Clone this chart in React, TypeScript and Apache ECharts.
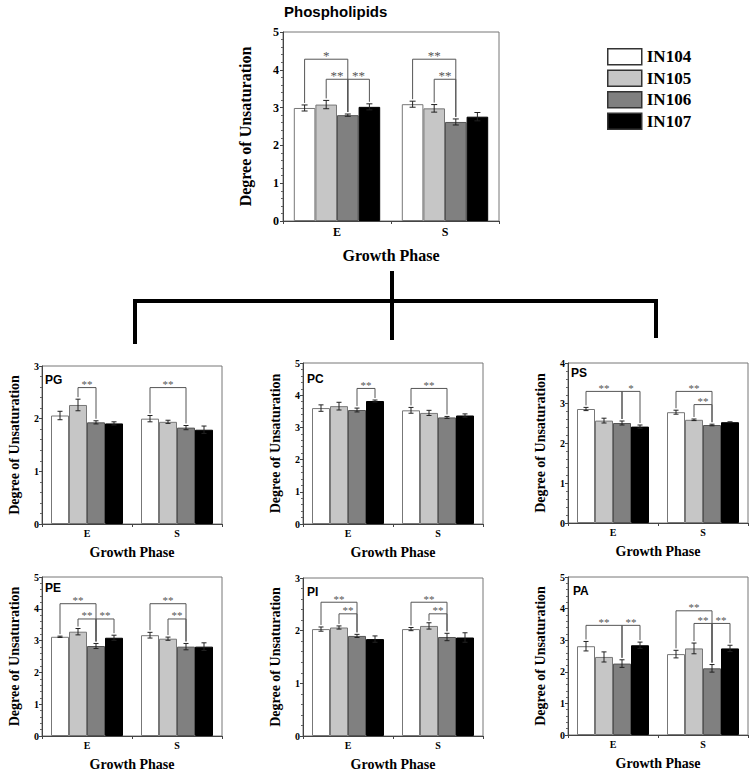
import React, { useEffect, useRef } from "react";
import * as echarts from "echarts";

// ---------- data ----------
const categories = ["E", "S"];
const strains = ["IN104", "IN105", "IN106", "IN107"];

// [phase][strain]
const phosphoMean = [[2.99, 3.08, 2.8, 3.02], [3.09, 2.98, 2.62, 2.76]];
const phosphoErr = [[0.08, 0.11, 0.03, 0.08], [0.08, 0.1, 0.08, 0.11]];
// [phase, fromStrain, toStrain, height, label]
const phosphoSig: [number, number, number, number, string][] = [
  [0, 0, 2, 4.28, "*"], [0, 1, 2, 3.75, "**"], [0, 2, 3, 3.75, "**"],
  [1, 0, 2, 4.28, "**"], [1, 1, 2, 3.75, "**"],
];

const pgMean = [[2.06, 2.26, 1.93, 1.91], [2.0, 1.94, 1.83, 1.79]];
const pgErr = [[0.08, 0.11, 0.03, 0.03], [0.06, 0.03, 0.04, 0.07]];
const pgSig: [number, number, number, number, string][] = [
  [0, 1, 2, 2.59, "**"], [1, 0, 2, 2.59, "**"],
];

const pcMean = [[3.6, 3.66, 3.54, 3.82], [3.53, 3.45, 3.31, 3.37]];
const pcErr = [[0.1, 0.12, 0.06, 0.03], [0.09, 0.08, 0.03, 0.05]];
const pcSig: [number, number, number, number, string][] = [
  [0, 2, 3, 4.21, "**"], [1, 0, 2, 4.21, "**"],
];

const psMean = [[2.85, 2.56, 2.5, 2.41], [2.77, 2.58, 2.45, 2.52]];
const psErr = [[0.04, 0.06, 0.05, 0.04], [0.05, 0.02, 0.02, 0.01]];
const psSig: [number, number, number, number, string][] = [
  [0, 0, 2, 3.29, "**"], [0, 2, 3, 3.29, "*"],
  [1, 0, 2, 3.29, "**"], [1, 1, 2, 2.96, "**"],
];

const peMean = [[3.12, 3.28, 2.83, 3.09], [3.17, 3.06, 2.81, 2.81]];
const peErr = [[0.02, 0.1, 0.08, 0.08], [0.09, 0.05, 0.1, 0.12]];
const peSig: [number, number, number, number, string][] = [
  [0, 0, 2, 4.16, "**"], [0, 1, 2, 3.68, "**"], [0, 2, 3, 3.68, "**"],
  [1, 0, 2, 4.16, "**"], [1, 1, 2, 3.68, "**"],
];

const piMean = [[2.03, 2.06, 1.9, 1.84], [2.03, 2.09, 1.88, 1.87]];
const piErr = [[0.04, 0.03, 0.03, 0.06], [0.03, 0.06, 0.07, 0.09]];
const piSig: [number, number, number, number, string][] = [
  [0, 0, 2, 2.54, "**"], [0, 1, 2, 2.32, "**"],
  [1, 0, 2, 2.54, "**"], [1, 1, 2, 2.32, "**"],
];

const paMean = [[2.81, 2.47, 2.26, 2.84], [2.56, 2.74, 2.11, 2.74]];
const paErr = [[0.15, 0.16, 0.12, 0.1], [0.12, 0.17, 0.12, 0.1]];
const paSig: [number, number, number, number, string][] = [
  [0, 0, 2, 3.47, "**"], [0, 2, 3, 3.47, "**"],
  [1, 0, 2, 3.93, "**"], [1, 1, 2, 3.53, "**"], [1, 2, 3, 3.53, "**"],
];

const yMax = [5, 3, 5, 4, 5, 3, 5];
const panelLabels = ["", "PG", "PC", "PS", "PE", "PI", "PA"];

// ---------- styling / layout ----------
const serif = "Liberation Serif";
const sans = "Liberation Sans";
const fills = ["#ffffff", "#c6c6c6", "#808080", "#000000"];
const borders = ["#777777", "#777777", "#555555", "#000000"];

const layouts = [
  { left: 283, top: 32, width: 216, height: 189, big: true, lx: 0, ly: 0 },
  { left: 42, top: 366, width: 180, height: 158, big: false, lx: 45, ly: 374 },
  { left: 303, top: 363, width: 180, height: 161, big: false, lx: 307, ly: 373 },
  { left: 568, top: 363, width: 180, height: 160, big: false, lx: 571, ly: 367 },
  { left: 42, top: 577, width: 180, height: 159, big: false, lx: 45, ly: 582 },
  { left: 303, top: 578, width: 180, height: 158, big: false, lx: 307, ly: 586 },
  { left: 568, top: 577, width: 180, height: 158, big: false, lx: 573, ly: 585 },
];

const panelData = [
  { mean: phosphoMean, err: phosphoErr, sig: phosphoSig },
  { mean: pgMean, err: pgErr, sig: pgSig },
  { mean: pcMean, err: pcErr, sig: pcSig },
  { mean: psMean, err: psErr, sig: psSig },
  { mean: peMean, err: peErr, sig: peSig },
  { mean: piMean, err: piErr, sig: piSig },
  { mean: paMean, err: paErr, sig: paSig },
];

function barX(api: any, c: number, s: number) {
  const band = api.size([1, 0])[0];
  const center = api.coord([c, 0])[0];
  return center - band * 0.4 + (s + 0.5) * band * 0.2;
}

function buildOption() {
  const grid: any[] = [];
  const xAxis: any[] = [];
  const yAxis: any[] = [];
  const series: any[] = [];
  const title: any[] = [
    {
      text: "Phospholipids",
      left: 284,
      top: 4,
      padding: 0,
      textStyle: { fontFamily: sans, fontWeight: "bold", fontSize: 15, color: "#000" },
    },
  ];

  layouts.forEach((L, i) => {
    const d = panelData[i];
    const big = L.big;
    grid.push({
      left: L.left, top: L.top, width: L.width, height: L.height,
      show: true, borderColor: "#777", borderWidth: 1, backgroundColor: "transparent",
    });
    xAxis.push({
      type: "category",
      gridIndex: i,
      data: categories,
      name: "Growth Phase",
      nameLocation: "middle",
      nameGap: big ? 26 : 21,
      nameTextStyle: { fontFamily: serif, fontWeight: "bold", fontSize: big ? 16 : 14, color: "#000" },
      axisLine: { lineStyle: { color: "#444", width: 1 } },
      axisTick: { show: true, length: 3, lineStyle: { color: "#444" } },
      axisLabel: { fontFamily: serif, fontWeight: "bold", fontSize: big ? 12 : 10, color: "#000", margin: big ? 5 : 4 },
    });
    yAxis.push({
      type: "value",
      gridIndex: i,
      min: 0,
      max: yMax[i],
      interval: 1,
      name: "Degree of Unsaturation",
      nameLocation: "middle",
      nameGap: big ? 30 : 21,
      nameTextStyle: { fontFamily: serif, fontWeight: "bold", fontSize: big ? 16 : 14, color: "#000" },
      axisLine: { show: true, lineStyle: { color: "#444", width: 1 } },
      axisTick: { show: true, length: 3, lineStyle: { color: "#444" } },
      minorTick: { show: true, splitNumber: 5, length: 2, lineStyle: { color: "#666" } },
      splitLine: { show: false },
      axisLabel: { fontFamily: serif, fontWeight: "bold", fontSize: big ? 12 : 10, color: "#000", margin: big ? 4 : 3 },
    });

    if (panelLabels[i]) {
      title.push({
        text: panelLabels[i],
        left: L.lx,
        top: L.ly,
        padding: 0,
        textStyle: { fontFamily: sans, fontWeight: "bold", fontSize: 12, color: "#000" },
      });
    }

    strains.forEach((name, s) => {
      series.push({
        type: "bar",
        name,
        xAxisIndex: i,
        yAxisIndex: i,
        data: categories.map((_, c) => d.mean[c][s]),
        barGap: "0%",
        barCategoryGap: "20%",
        itemStyle: { color: fills[s], borderColor: borders[s], borderWidth: 1 },
        silent: true,
      });
    });

    const errData: number[][] = [];
    categories.forEach((_, c) => strains.forEach((__, s) => errData.push([c, d.mean[c][s], s, d.err[c][s]])));
    series.push({
      type: "custom",
      xAxisIndex: i,
      yAxisIndex: i,
      silent: true,
      z: 5,
      encode: { x: 0, y: 1 },
      data: errData,
      renderItem: (params: any, api: any) => {
        const c = api.value(0), m = api.value(1), s = api.value(2), e = api.value(3);
        const x = barX(api, c, s);
        const yt = api.coord([c, m + e])[1];
        const yb = api.coord([c, m - e])[1];
        const cap = big ? 3 : 2.5;
        const st = { stroke: "#222", lineWidth: 1 };
        return {
          type: "group",
          children: [
            { type: "line", shape: { x1: x, y1: yt, x2: x, y2: yb }, style: st },
            { type: "line", shape: { x1: x - cap, y1: yt, x2: x + cap, y2: yt }, style: st },
            { type: "line", shape: { x1: x - cap, y1: yb, x2: x + cap, y2: yb }, style: st },
          ],
        };
      },
    });

    series.push({
      type: "custom",
      xAxisIndex: i,
      yAxisIndex: i,
      silent: true,
      z: 6,
      encode: { x: 0, y: 1 },
      data: d.sig.map((b) => [b[0], b[3]]),
      renderItem: (params: any, api: any) => {
        const b = d.sig[params.dataIndex];
        const c = b[0], from = b[1], to = b[2], h = b[3], label = b[4];
        const x1 = barX(api, c, from);
        const x2 = barX(api, c, to);
        const yH = api.coord([c, h])[1];
        const leg = (s: number) => api.coord([c, d.mean[c][s] + d.err[c][s]])[1] - 2;
        const st = { stroke: "#555", lineWidth: 1 };
        return {
          type: "group",
          children: [
            { type: "line", shape: { x1, y1: yH, x2, y2: yH }, style: st },
            { type: "line", shape: { x1, y1: yH, x2: x1, y2: leg(from) }, style: st },
            { type: "line", shape: { x1: x2, y1: yH, x2, y2: leg(to) }, style: st },
            {
              type: "text",
              x: (x1 + x2) / 2,
              y: yH + (big ? 3 : 2),
              style: {
                text: label,
                fill: "#555",
                fontFamily: serif,
                fontSize: big ? 13 : 11,
                textAlign: "center",
                textVerticalAlign: "bottom",
                align: "center",
                verticalAlign: "bottom",
              },
            },
          ],
        };
      },
    });
  });

  const lw = 4;
  const graphic = [
    { type: "line", shape: { x1: 133, y1: 301, x2: 658, y2: 301 }, style: { stroke: "#000", lineWidth: lw } },
    { type: "line", shape: { x1: 135, y1: 299, x2: 135, y2: 344 }, style: { stroke: "#000", lineWidth: lw } },
    { type: "line", shape: { x1: 392, y1: 271, x2: 392, y2: 340 }, style: { stroke: "#000", lineWidth: lw } },
    { type: "line", shape: { x1: 656, y1: 299, x2: 656, y2: 338 }, style: { stroke: "#000", lineWidth: lw } },
  ];

  return {
    animation: false,
    backgroundColor: "#fff",
    title,
    legend: {
      orient: "vertical",
      left: 607,
      top: 48,
      padding: 0,
      itemWidth: 34,
      itemHeight: 16,
      itemGap: 4,
      icon: "rect",
      selectedMode: false,
      data: strains,
      itemStyle: { borderColor: "#333", borderWidth: 1.5 },
      textStyle: { fontFamily: serif, fontWeight: "bold", fontSize: 17, color: "#000", lineHeight: 16 },
    },
    grid,
    xAxis,
    yAxis,
    series,
    graphic,
  };
}

export default function App() {
  const ref = useRef<HTMLDivElement>(null);
  useEffect(() => {
    if (!ref.current) return;
    const chart = echarts.init(ref.current, undefined, { renderer: "svg" });
    chart.setOption(buildOption() as any);
    return () => chart.dispose();
  }, []);
  return (
    <div
      ref={ref}
      style={{ position: "absolute", left: 0, top: 0, width: 752, height: 772, background: "#fff" }}
    />
  );
}
